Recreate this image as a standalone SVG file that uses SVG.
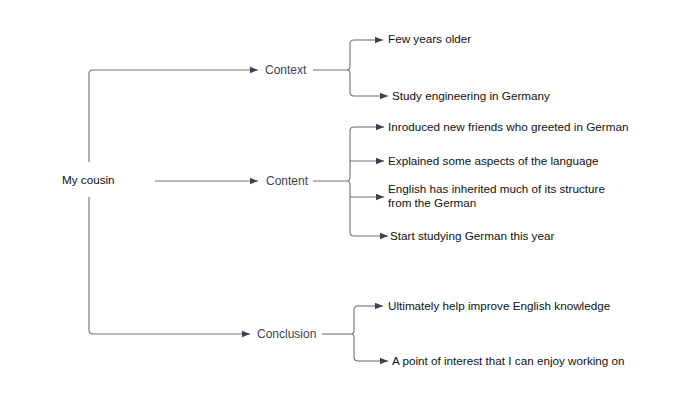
<svg xmlns="http://www.w3.org/2000/svg" width="700" height="416" viewBox="0 0 700 416">
<defs>
<marker id="ah" viewBox="0 0 10 10" refX="10" refY="5" markerWidth="8" markerHeight="8" markerUnits="userSpaceOnUse" orient="auto">
<path d="M0,1 L10,5 L0,9 Z" fill="#3d4250"/>
</marker>
<style>
.ln{fill:none;stroke:#6b7079;stroke-width:1.1}
.ar{marker-end:url(#ah)}
.leaf{font-family:"Liberation Sans",Arial,sans-serif;font-size:11.7px;fill:#111}
.mid{font-family:"Liberation Sans",Arial,sans-serif;font-size:12px;fill:#3d4250}
</style>
</defs>
<rect width="700" height="416" fill="#fff"/>
<g id="connectors">
<path class="ln ar" d="M89,162 V74 Q89,70 93,70 H258"/>
<path class="ln ar" d="M155,181 H258"/>
<path class="ln ar" d="M89,197 V330 Q89,334 93,334 H250"/>
<path class="ln" d="M313,70 H347"/>
<path class="ln" d="M354,40 Q350,40 350,44 V66 Q350,70 347,70 Q350,70 350,74 V92 Q350,96 354,96"/>
<path class="ln ar" d="M354,40 H383"/>
<path class="ln ar" d="M354,96 H388"/>
<path class="ln" d="M313,181 H347"/>
<path class="ln" d="M354,127 Q350,127 350,131 V177 Q350,181 347,181 Q350,181 350,185 V232 Q350,236 354,236"/>
<path class="ln ar" d="M354,127 H384"/>
<path class="ln ar" d="M350,161 H384"/>
<path class="ln ar" d="M350,197 H384"/>
<path class="ln ar" d="M354,236 H388"/>
<path class="ln" d="M322,334 H351"/>
<path class="ln" d="M358,306 Q354,306 354,310 V330 Q354,334 351,334 Q354,334 354,338 V357 Q354,361 358,361"/>
<path class="ln ar" d="M358,306 H383"/>
<path class="ln ar" d="M358,361 H388"/>
</g>
<g id="my-cousin"><text class="leaf" x="62" y="184">My cousin</text></g>
<g id="context"><text class="mid" x="265" y="74">Context</text></g>
<g id="content"><text class="mid" x="266" y="185">Content</text></g>
<g id="conclusion"><text class="mid" x="257" y="338">Conclusion</text></g>
<g id="few-years"><text class="leaf" x="388" y="43">Few years older</text></g>
<g id="study-eng"><text class="leaf" x="392" y="100">Study engineering in Germany</text></g>
<g id="introduced"><text class="leaf" x="388" y="131">Inroduced new friends who greeted in German</text></g>
<g id="explained"><text class="leaf" x="388" y="165">Explained some aspects of the language</text></g>
<g id="english"><text class="leaf" x="388" y="193">English has inherited much of its structure</text><text class="leaf" x="388" y="207">from the German</text></g>
<g id="start"><text class="leaf" x="390" y="240">Start studying German this year</text></g>
<g id="ultimately"><text class="leaf" x="388" y="310">Ultimately help improve English knowledge</text></g>
<g id="point"><text class="leaf" x="392" y="365">A point of interest that I can enjoy working on</text></g>
</svg>
